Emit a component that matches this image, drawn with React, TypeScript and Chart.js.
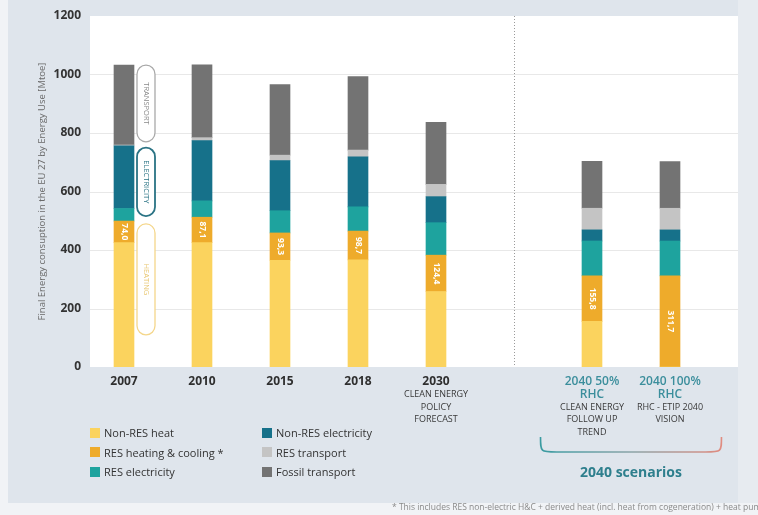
import React, { useEffect, useRef } from 'react';
import { Chart, registerables } from 'chart.js';

Chart.register(...registerables);

// ---------- data ----------
const categories = ['2007', '2010', '2015', '2018', '2030', '', '2040 50%', '2040 100%'];
const scenarioTag = ['', '', '', '', '', '', 'RHC', 'RHC'];
const subLabels: string[][] = [
  [], [], [], [],
  ['CLEAN ENERGY', 'POLICY', 'FORECAST'],
  [],
  ['CLEAN ENERGY', 'FOLLOW UP', 'TREND'],
  ['RHC - ETIP 2040', 'VISION'],
];

const nonResHeat = [425, 425, 365, 366, 258, null, 156, 0];
const resHeatingCooling = [74.0, 87.1, 93.3, 98.7, 124.4, null, 155.8, 311.7];
const resElectricity = [43, 56, 76, 83, 111, null, 119, 119];
const nonResElectricity = [214, 206, 171, 171, 89, null, 38, 38];
const resTransport = [3, 10, 19, 23, 42, null, 74, 74];
const fossilTransport = [273, 249, 241, 251, 212, null, 160, 160];

const seriesNames = [
  'Non-RES heat',
  'RES heating & cooling *',
  'RES electricity',
  'Non-RES electricity',
  'RES transport',
  'Fossil transport',
];
const seriesValues = [nonResHeat, resHeatingCooling, resElectricity, nonResElectricity, resTransport, fossilTransport];
const seriesColors = ['#fbd35e', '#eeab2b', '#1ea39e', '#16718a', '#c4c4c4', '#737373'];

const yMin = 0;
const yMax = 1200;
const yStep = 200;
const yTitle = 'Final Energy consuption in the EU 27 by Energy Use [Mtoe]';

// bracket annotations beside the 2007 bar (value ranges)
const bandLabels = ['HEATING', 'ELECTRICITY', 'TRANSPORT'];
const bandFrom = [110, 516, 770];
const bandTo = [489, 750, 1032];
const bandColors = ['#f4d68a', '#2a7384', '#a9a9a9'];
const bandTextColors = ['#e9c873', '#2a7384', '#8a8a8a'];

const scenarioTitle = '2040 scenarios';
const footnote = '* This includes RES non-electric H&C + derived heat (incl. heat from cogeneration) + heat pumps';

// ---------- styles ----------
const FONT = "'Open Sans', 'Noto Sans', sans-serif";
const TEAL = '#3b8e9c';
const PANEL_LEFT = 90;
const PANEL_RIGHT = 738;
const W = 758;
const H = 515;

function roundRect(ctx: CanvasRenderingContext2D, x: number, y: number, w: number, h: number, r: number) {
  const rr = Math.min(r, w / 2, h / 2);
  ctx.beginPath();
  ctx.moveTo(x + rr, y);
  ctx.lineTo(x + w - rr, y);
  ctx.arcTo(x + w, y, x + w, y + rr, rr);
  ctx.lineTo(x + w, y + h - rr);
  ctx.arcTo(x + w, y + h, x + w - rr, y + h, rr);
  ctx.lineTo(x + rr, y + h);
  ctx.arcTo(x, y + h, x, y + h - rr, rr);
  ctx.lineTo(x, y + rr);
  ctx.arcTo(x, y, x + rr, y, rr);
  ctx.closePath();
}

const decorPlugin = {
  id: 'decor',
  beforeDraw(chart: any) {
    const { ctx, chartArea, scales } = chart;
    const x = scales.x;
    const y = scales.y;
    ctx.save();
    ctx.fillStyle = '#ffffff';
    ctx.fillRect(PANEL_LEFT, chartArea.top, PANEL_RIGHT - PANEL_LEFT, chartArea.bottom - chartArea.top);
    ctx.strokeStyle = '#e8e8e8';
    ctx.lineWidth = 1;
    for (let v = yMin + yStep; v < yMax; v += yStep) {
      const py = Math.round(y.getPixelForValue(v)) + 0.5;
      ctx.beginPath();
      ctx.moveTo(PANEL_LEFT, py);
      ctx.lineTo(PANEL_RIGHT, py);
      ctx.stroke();
    }
    const gapIndex = categories.indexOf('');
    const gx = Math.round(x.getPixelForValue(gapIndex)) + 0.5;
    ctx.strokeStyle = '#9a9a9a';
    ctx.setLineDash([1, 2]);
    ctx.beginPath();
    ctx.moveTo(gx, chartArea.top);
    ctx.lineTo(gx, chartArea.bottom);
    ctx.stroke();
    ctx.restore();
  },
  afterDatasetsDraw(chart: any) {
    const { ctx, chartArea, scales } = chart;
    const x = scales.x;
    const y = scales.y;
    ctx.save();

    // values on RES heating & cooling segments
    const meta = chart.getDatasetMeta(1);
    ctx.fillStyle = '#ffffff';
    ctx.font = `700 8.5px ${FONT}`;
    ctx.textAlign = 'center';
    ctx.textBaseline = 'middle';
    meta.data.forEach((el: any, i: number) => {
      const v = resHeatingCooling[i];
      if (v == null || !isFinite(el.y)) return;
      const cy = (el.y + el.base) / 2;
      ctx.save();
      ctx.translate(el.x, cy);
      ctx.rotate(Math.PI / 2);
      ctx.fillText(v.toFixed(1).replace('.', ','), 0, 0);
      ctx.restore();
    });

    // pill brackets beside first bar
    const first = chart.getDatasetMeta(0).data[0];
    const px = first.x + first.width / 2 + 3;
    const pw = 18;
    bandLabels.forEach((lab, i) => {
      const top = y.getPixelForValue(bandTo[i]);
      const bottom = y.getPixelForValue(bandFrom[i]);
      roundRect(ctx, px, top, pw, bottom - top, 9);
      ctx.fillStyle = '#ffffff';
      ctx.fill();
      ctx.strokeStyle = bandColors[i];
      ctx.lineWidth = i === 1 ? 1.8 : 1.3;
      ctx.stroke();
      ctx.save();
      ctx.translate(px + pw / 2, (top + bottom) / 2);
      ctx.rotate(Math.PI / 2);
      ctx.fillStyle = bandTextColors[i];
      ctx.font = `7.5px ${FONT}`;
      ctx.textAlign = 'center';
      ctx.textBaseline = 'middle';
      ctx.fillText(lab, 0, 0);
      ctx.restore();
    });

    // x labels
    ctx.textAlign = 'center';
    ctx.textBaseline = 'middle';
    categories.forEach((cat, i) => {
      if (!cat) return;
      const cx = x.getPixelForValue(i);
      let ly = chartArea.bottom + 15;
      const scen = scenarioTag[i] !== '';
      ctx.fillStyle = scen ? TEAL : '#2f2f2f';
      ctx.font = `${scen ? 600 : 700} 12px ${FONT}`;
      ctx.fillText(cat, cx, ly);
      if (scen) {
        ly += 12.5;
        ctx.fillText(scenarioTag[i], cx, ly);
      }
      ctx.font = `9px ${FONT}`;
      ctx.fillStyle = '#3a3a3a';
      subLabels[i].forEach((s) => {
        ly += 12.5;
        ctx.fillText(s, cx, ly);
      });
    });

    // scenario brace
    const x6 = x.getPixelForValue(6);
    const x7 = x.getPixelForValue(7);
    const mid = (x6 + x7) / 2;
    const half = (x7 - x6) * 1.16;
    const L = mid - half;
    const R = mid + half;
    const bt = chartArea.bottom + 70;
    const bb = chartArea.bottom + 85;
    const grad = ctx.createLinearGradient(L, 0, R, 0);
    grad.addColorStop(0, '#3a9ba1');
    grad.addColorStop(0.5, '#8aa3a6');
    grad.addColorStop(1, '#e08c80');
    ctx.strokeStyle = grad;
    ctx.lineWidth = 1.6;
    ctx.beginPath();
    ctx.moveTo(L, bt);
    ctx.bezierCurveTo(L, bb, L, bb, L + 16, bb);
    ctx.lineTo(R - 16, bb);
    ctx.bezierCurveTo(R, bb, R, bb, R, bt);
    ctx.stroke();

    ctx.fillStyle = '#2e7f8d';
    ctx.font = `700 14px ${FONT}`;
    ctx.fillText(scenarioTitle, mid, chartArea.bottom + 106);

    // footnote
    ctx.textAlign = 'left';
    ctx.fillStyle = '#8a8a8a';
    ctx.font = `8.5px ${FONT}`;
    ctx.fillText(footnote, 392, chart.height - 7);

    ctx.restore();
  },
};

export default function App() {
  const canvasRef = useRef<HTMLCanvasElement | null>(null);

  useEffect(() => {
    if (!canvasRef.current) return;
    Chart.defaults.font.family = FONT;
    const chart = new Chart(canvasRef.current, {
      type: 'bar',
      data: {
        labels: categories,
        datasets: seriesNames.map((name, i) => ({
          label: name,
          data: seriesValues[i] as any,
          backgroundColor: seriesColors[i],
          borderWidth: 0,
          barThickness: 20,
        })),
      },
      options: {
        responsive: false,
        animation: false,
        layout: { padding: { left: 0, right: W - 709, top: 16, bottom: H - 367 } },
        plugins: {
          legend: { display: false },
          tooltip: { enabled: false },
        },
        scales: {
          x: { type: 'category', stacked: true, display: false, offset: true },
          y: {
            stacked: true,
            min: yMin,
            max: yMax,
            ticks: {
              stepSize: yStep,
              padding: 4,
              color: '#333333',
              font: { family: FONT, size: 12, weight: 'bold' },
              callback: (v: any) => String(v),
            },
            grid: { display: false, drawTicks: false },
            border: { display: false },
            title: {
              display: true,
              text: yTitle,
              color: '#6a6a6a',
              font: { family: FONT, size: 9.5 },
              padding: { top: 37, bottom: 0 },
            },
            afterFit: (scale: any) => {
              scale.width = 85;
            },
          },
        },
      },
      plugins: [decorPlugin],
    } as any);
    return () => chart.destroy();
  }, []);

  const rows = 3;
  return (
    <div style={{ position: 'fixed', left: 0, top: 0, width: W, height: H, background: '#f1f3f6', overflow: 'hidden' }}>
      <div style={{ position: 'absolute', left: 8, top: 0, width: W - 8, height: 503, background: '#dfe5ec' }} />
      <div style={{ position: 'absolute', left: 738, top: 0, width: 20, height: 503, background: '#e7ebf0' }} />
      <canvas ref={canvasRef} width={W} height={H} style={{ position: 'absolute', left: 0, top: 0, width: W, height: H }} />
      <div
        style={{
          position: 'absolute',
          left: 90,
          top: 423,
          display: 'grid',
          gridTemplateColumns: '172px 200px',
          gridTemplateRows: `repeat(${rows}, 19.5px)`,
          gridAutoFlow: 'column',
          fontFamily: FONT,
          fontSize: 11,
          color: '#333',
        }}
      >
        {seriesNames.map((name, i) => (
          <div key={name} style={{ display: 'flex', alignItems: 'center', whiteSpace: 'nowrap' }}>
            <span style={{ display: 'inline-block', width: 10, height: 10, background: seriesColors[i], marginRight: 4 }} />
            <span>{name}</span>
          </div>
        ))}
      </div>
    </div>
  );
}
